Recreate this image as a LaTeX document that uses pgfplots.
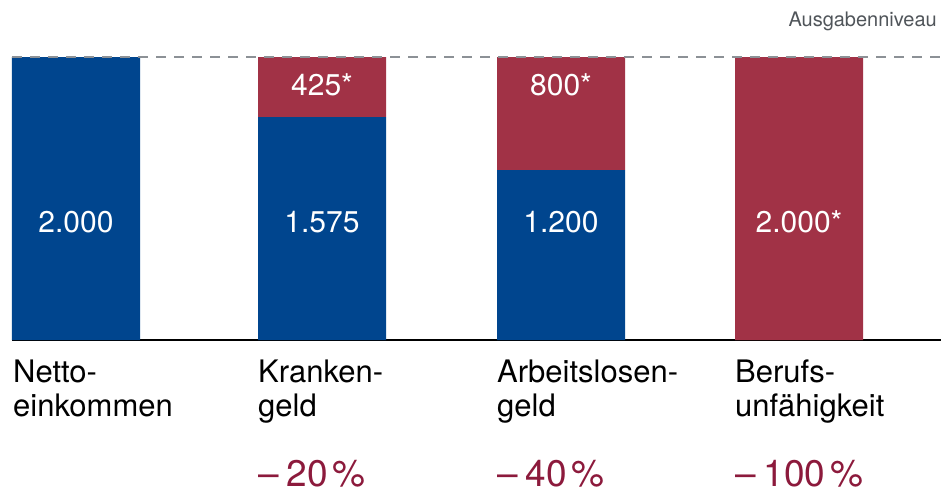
\documentclass[border=0pt]{standalone}
\usepackage{pgfplots}
\pgfplotsset{compat=1.18}
\usepackage{fontspec}
\setmainfont{TeX Gyre Heros}
\definecolor{bblue}{RGB}{0,69,142}
\definecolor{bred}{RGB}{161,50,70}
\definecolor{pred}{RGB}{140,26,60}
\definecolor{dgray}{RGB}{140,145,150}
\definecolor{tgray}{RGB}{80,85,90}
\tikzset{vlab/.style={anchor=base, inner sep=0, text=white, font=\fontsize{30}{36}\selectfont},
  clab/.style={anchor=base west, inner sep=0, font=\fontsize{31}{36}\selectfont},
  plab/.style={anchor=base west, inner sep=0, text depth=0pt, text=pred, font=\fontsize{37}{40}\selectfont}}
\begin{document}
\begin{tikzpicture}
\begin{axis}[at={(0,0)}, anchor=south west, scale only axis,
  width=929pt, height=283pt, xmin=12, xmax=941, ymin=0, ymax=2000,
  hide y axis, axis x line=bottom,
  axis line style={-, black, line width=1.5pt},
  xtick=\empty, ytick=\empty, ybar stacked, bar width=128pt, clip=false]
\addplot[fill=bblue, draw=none] coordinates {(76,2000) (322,1575) (561,1200) (799,0)};
\addplot[fill=bred, draw=none] coordinates {(76,0) (322,425) (561,800) (799,2000)};
\coordinate (dl) at (axis cs:12,2000);
\coordinate (dr) at (axis cs:941,2000);
\coordinate (v1) at (axis cs:76,763);
\coordinate (v2) at (axis cs:322,763);
\coordinate (v3) at (axis cs:561,763);
\coordinate (v4) at (axis cs:799,763);
\coordinate (t2) at (axis cs:322,1731);
\coordinate (t3) at (axis cs:561,1731);
\node[anchor=base east, inner sep=0, text=tgray, font=\fontsize{20}{24}\selectfont] at (axis cs:937,2219) {Ausgabenniveau};
\node[clab] at (axis cs:13,-297) {Netto-};
\node[clab] at (axis cs:13,-544) {einkommen};
\node[clab] at (axis cs:258,-297) {Kranken-};
\node[clab] at (axis cs:258,-544) {geld};
\node[clab] at (axis cs:497,-297) {Arbeitslosen-};
\node[clab] at (axis cs:497,-544) {geld};
\node[clab] at (axis cs:735,-297) {Berufs-};
\node[clab] at (axis cs:735,-544) {unfähigkeit};
\node[plab] at (axis cs:258,-1035) {–\hspace{8pt}20\hspace{5pt}\%};
\node[plab] at (axis cs:497,-1035) {–\hspace{8pt}40\hspace{5pt}\%};
\node[plab] at (axis cs:735,-1035) {–\hspace{8pt}100\hspace{5pt}\%};
\end{axis}
\draw[dgray, line width=2pt, dash pattern=on 10pt off 8pt] (dl) -- (dr);
\node[vlab] at (v1) {2.000};
\node[vlab] at (v2) {1.575};
\node[vlab] at (v3) {1.200};
\node[vlab] at (v4) {2.000*};
\node[vlab] at (t2) {425*};
\node[vlab] at (t3) {800*};
\pgfresetboundingbox
\path[use as bounding box] (-12pt,-151pt) rectangle (929pt,340pt);
\end{tikzpicture}
\end{document}
